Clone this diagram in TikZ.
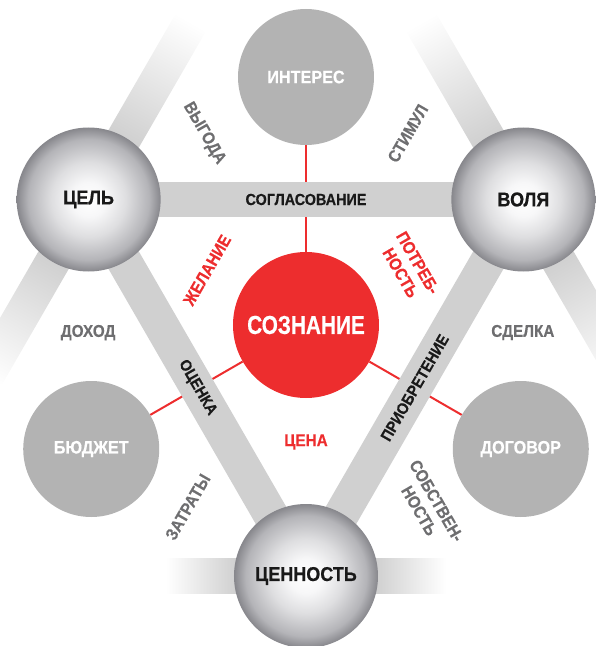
\documentclass[tikz,border=0pt]{standalone}
\usepackage{fontspec}
\setmainfont[FakeStretch=0.9, BoldFeatures={FakeBold=0.4}]{Liberation Sans}
\newfontfamily\corefont[FakeStretch=0.8, BoldFeatures={FakeBold=0.4}]{Liberation Sans}
\usepackage{xcolor}
\usepackage{tikz}
\usetikzlibrary{calc}
\pgfdeclarelayer{background}
\pgfdeclarelayer{bars}
\pgfsetlayers{background,bars,main}

\definecolor{sred}{RGB}{237,45,46}
\definecolor{barclr}{RGB}{208,208,208}
\definecolor{discclr}{RGB}{179,179,179}
\definecolor{txtgray}{RGB}{110,110,112}
\definecolor{ballhi}{RGB}{247,247,248}
\definecolor{ballmid}{RGB}{222,222,224}
\definecolor{ballrim}{RGB}{180,180,184}
\definecolor{balledge}{RGB}{135,135,140}
\pgfdeclareradialshading{sphere}{\pgfpoint{0bp}{0bp}}{color(0bp)=(white); color(6bp)=(ballhi); color(13bp)=(ballmid); color(21bp)=(ballrim); color(25bp)=(balledge); color(36bp)=(balledge)}

\begin{document}
\begin{tikzpicture}[x=1pt, y=1pt]
        \tikzset{
            ball/.style={circle, shade, shading=sphere, minimum size=144pt, inner sep=0pt, text=black!90, font=\bfseries\fontsize{20}{21}\selectfont},
            disc/.style={circle, fill=discclr, minimum size=136pt, inner sep=0pt, text=white, font=\bfseries\fontsize{18}{19}\selectfont},
            core/.style={circle, fill=sred, minimum size=146pt, inner sep=0pt, text=white, font=\corefont\bfseries\fontsize{26}{27}\selectfont},
            bar/.style={draw=barclr, line width=35pt},
            redline/.style={draw=sred, line width=2pt},
            barlabel/.style={text=black!90, font=\bfseries\fontsize{16}{17}\selectfont},
            outlabel/.style={text=txtgray, align=center, font=\bfseries\fontsize{17}{20}\selectfont},
            redlabel/.style={text=sred, align=center, font=\bfseries\fontsize{17}{20}\selectfont},
        }
        \useasboundingbox (-306,-321) rectangle (290,325);

        % Corners of the triangle
        \node [ball] (cel) at (150:251) {ЦЕЛЬ};
        \node [ball] (volya) at (30:251) {ВОЛЯ};
        \node [ball] (cennost) at (270:251) {ЦЕННОСТЬ};

        % Middle and outer discs
        \node [core] (soz) at (0,0) {СОЗНАНИЕ};
        \node [disc] (interes) at (90:248) {ИНТЕРЕС};
        \node [disc] (budget) at (210:248) {БЮДЖЕТ};
        \node [disc] (dogovor) at (330:248) {ДОГОВОР};

        % Fading outer bars and red links
        \begin{pgfonlayer}{background}
            \clip (-306,-321) rectangle (290,325);
            \foreach \v/\a/\len in {cel/60/205, cel/240/205, volya/120/205, volya/300/205, cennost/0/140, cennost/180/140} {
                \begin{scope}[transform canvas={shift={(\v)}, rotate=\a}]
                    \fill [barclr] (0,-17.5) rectangle (70,17.5);
                    \shade [left color=barclr, right color=white] (70,-17.5) rectangle (\len,17.5);
                \end{scope}
            }
            \draw [redline] (soz) -- (interes);
            \draw [redline] (soz) -- (budget);
            \draw [redline] (soz) -- (dogovor);
        \end{pgfonlayer}

        % Sides of the triangle
        \begin{pgfonlayer}{bars}
            \draw [bar] (cel.center) -- (volya.center);
            \draw [bar] (cel.center) -- (cennost.center);
            \draw [bar] (cennost.center) -- (volya.center);
        \end{pgfonlayer}
        \path (cel) -- (volya) node [midway, barlabel] (soglas) {СОГЛАСОВАНИЕ};
        \path (cel) -- (cennost) node [midway, sloped, barlabel] (ocenka) {ОЦЕНКА};
        \path (cennost) -- (volya) node [midway, sloped, barlabel] (priobr) {ПРИОБРЕТЕНИЕ};

        % Outer labels
        \node [outlabel, rotate=-60] (vygoda) at (118:217) {ВЫГОДА};
        \node [outlabel, rotate=60] (stimul) at (62:217) {СТИМУЛ};
        \node [outlabel] (dohod) at (182:218) {ДОХОД};
        \node [outlabel] (sdelka) at (358:217) {СДЕЛКА};
        \node [outlabel, rotate=60] (zatraty) at (237:217) {ЗАТРАТЫ};
        \node [outlabel, rotate=-60] (sobstv) at (304:218) {СОБСТВЕН-\\НОСТЬ};

        % Inner labels
        \node [redlabel, rotate=60] (zhelanie) at (151:113) {ЖЕЛАНИЕ};
        \node [redlabel, rotate=-60] (potreb) at (29:118) {ПОТРЕБ-\\НОСТЬ};
        \node [redlabel] (cena) at (270:117) {ЦЕНА};
\end{tikzpicture}
\end{document}
